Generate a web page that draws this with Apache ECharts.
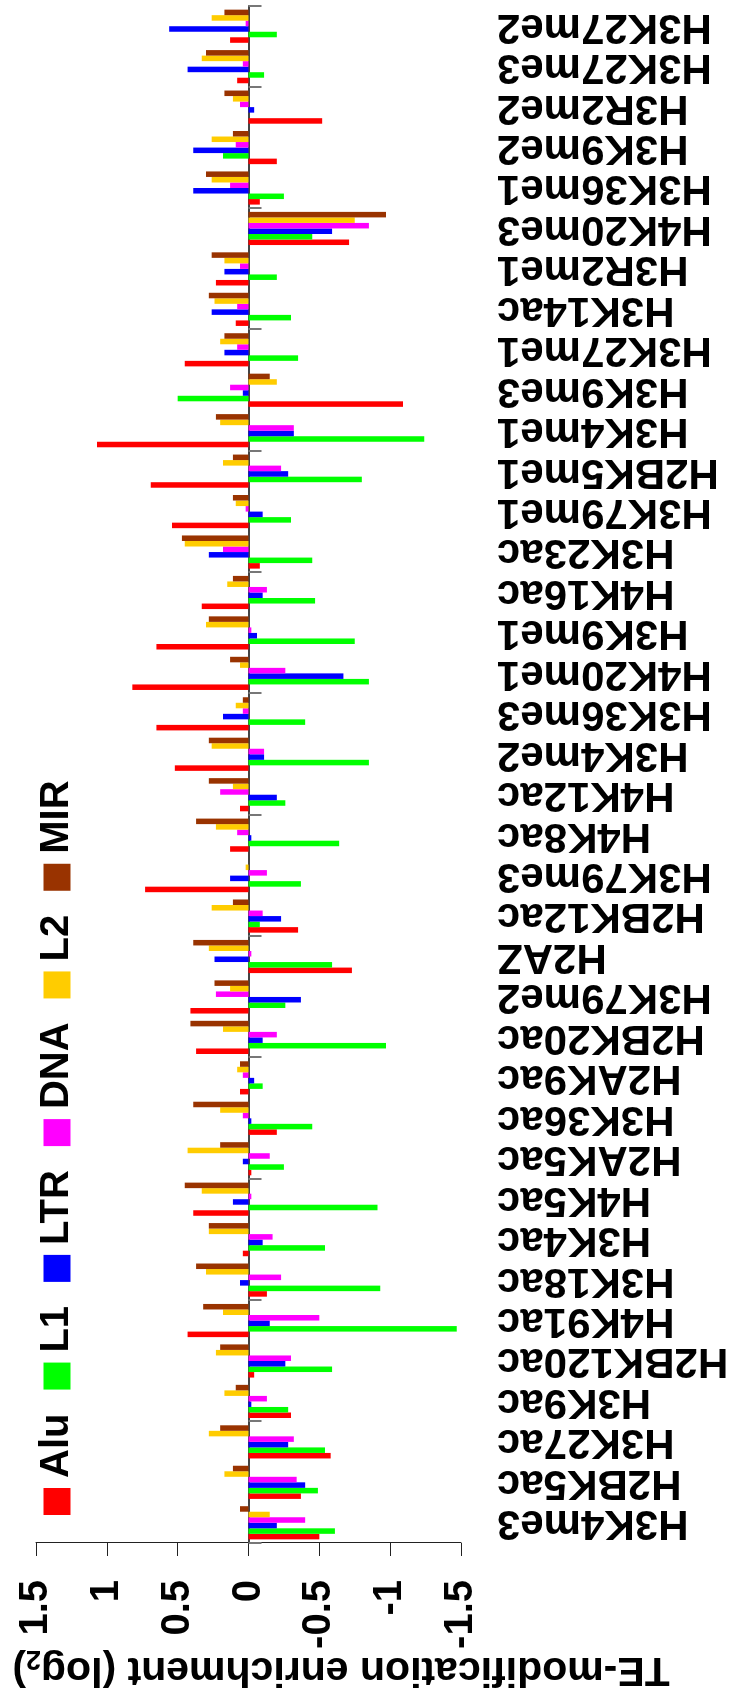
<!DOCTYPE html>
<html>
<head>
<meta charset="utf-8">
<title>TE-modification enrichment</title>
<script src="https://cdn.jsdelivr.net/npm/echarts@6/dist/echarts.min.js"></script>
<style>
  html, body { margin: 0; padding: 0; background: #fff; overflow: hidden; }
  #page { position: relative; width: 734px; height: 1696px; overflow: hidden; background: #fff; }
  /* the chart is laid out landscape and turned a quarter turn anticlockwise */
  #chart {
    position: absolute; left: 0; top: 0;
    width: 1696px; height: 734px;
    transform-origin: 0 0;
    transform: translateY(1696px) rotate(-90deg);
  }
</style>
</head>
<body>
<div id="page"><div id="chart"></div></div>
<script>
// Histone modifications, in axis order
const categories = [
  'H3K4me3', 'H2BK5ac', 'H3K27ac', 'H3K9ac', 'H2BK120ac', 'H4K91ac', 'H3K18ac',
  'H3K4ac', 'H4K5ac', 'H2AK5ac', 'H3K36ac', 'H2AK9ac', 'H2BK20ac', 'H3K79me2',
  'H2AZ', 'H2BK12ac', 'H3K79me3', 'H4K8ac', 'H4K12ac', 'H3K4me2', 'H3K36me3',
  'H4K20me1', 'H3K9me1', 'H4K16ac', 'H3K23ac', 'H3K79me1', 'H2BK5me1', 'H3K4me1',
  'H3K9me3', 'H3K27me1', 'H3K14ac', 'H3R2me1', 'H4K20me3', 'H3K36me1', 'H3K9me2',
  'H3R2me2', 'H3K27me3', 'H3K27me2'
];

// Enrichment (log2) per transposable-element family
const alu = [
  -0.50, -0.37, -0.58, -0.30, -0.04, 0.43, -0.13, 0.04, 0.39, -0.02,
  -0.20, 0.06, 0.37, 0.41, -0.73, -0.35, 0.73, 0.13, 0.06, 0.52,
  0.65, 0.82, 0.65, 0.33, -0.08, 0.54, 0.69, 1.07, -1.09, 0.45,
  0.09, 0.23, -0.71, -0.08, -0.20, -0.52, 0.08, 0.13
];
const l1 = [
  -0.61, -0.49, -0.54, -0.28, -0.59, -1.47, -0.93, -0.54, -0.91, -0.25,
  -0.45, -0.10, -0.97, -0.26, -0.59, -0.08, -0.37, -0.64, -0.26, -0.85,
  -0.40, -0.85, -0.75, -0.47, -0.45, -0.30, -0.80, -1.24, 0.50, -0.35,
  -0.30, -0.20, -0.45, -0.25, 0.18, 0.00, -0.11, -0.20
];
const ltr = [
  -0.20, -0.40, -0.28, -0.02, -0.26, -0.15, 0.06, -0.10, 0.11, 0.04,
  -0.02, -0.04, -0.10, -0.37, 0.24, -0.23, 0.13, -0.02, -0.20, -0.11,
  0.18, -0.67, -0.06, -0.10, 0.28, -0.10, -0.28, -0.32, 0.04, 0.17,
  0.26, 0.17, -0.59, 0.39, 0.39, -0.04, 0.43, 0.56
];
const dna = [
  -0.40, -0.34, -0.32, -0.13, -0.30, -0.50, -0.23, -0.17, -0.02, -0.15,
  0.04, 0.04, -0.20, 0.23, -0.02, -0.10, -0.13, 0.08, 0.20, -0.11,
  0.04, -0.26, -0.02, -0.13, 0.18, 0.02, -0.23, -0.32, 0.13, 0.08,
  0.08, 0.06, -0.85, 0.13, 0.09, 0.06, 0.04, 0.02
];
const l2 = [
  -0.15, 0.17, 0.28, 0.17, 0.23, 0.18, 0.30, 0.28, 0.33, 0.43,
  0.20, 0.08, 0.18, 0.13, 0.28, 0.26, 0.02, 0.23, 0.11, 0.26,
  0.09, 0.06, 0.30, 0.15, 0.45, 0.09, 0.18, 0.20, -0.20, 0.20,
  0.24, 0.17, -0.75, 0.26, 0.26, 0.11, 0.33, 0.26
];
const mir = [
  0.06, 0.11, 0.20, 0.09, 0.20, 0.32, 0.37, 0.28, 0.45, 0.20,
  0.39, 0.06, 0.41, 0.24, 0.39, 0.11, 0.00, 0.37, 0.28, 0.28,
  0.04, 0.13, 0.28, 0.11, 0.47, 0.11, 0.11, 0.23, -0.15, 0.17,
  0.28, 0.26, -0.97, 0.30, 0.11, 0.17, 0.30, 0.17
];

const familyNames = ['Alu', 'L1', 'LTR', 'DNA', 'L2', 'MIR'];
const familyValues = [alu, l1, ltr, dna, l2, mir];
const familyColors = ['#ff0000', '#00ff00', '#0000ff', '#ff00ff', '#ffcc00', '#993300'];

// Value axis range and tick step
const valueMin = -1.5;
const valueMax = 1.5;
const valueStep = 0.5;

const axisTitle = 'TE-modification enrichment (log';
const axisTitleSub = '2';

const FONT = '"Liberation Sans", Arial, Helvetica, sans-serif';

const chart = echarts.init(document.getElementById('chart'), null, { renderer: 'canvas' });

chart.setOption({
  animation: false,
  backgroundColor: '#ffffff',
  grid: { left: 153, right: 6, top: 36, bottom: 273, containLabel: false },
  legend: {
    data: familyNames,
    left: 176,
    top: 32,
    orient: 'horizontal',
    icon: 'rect',
    itemWidth: 27,
    itemHeight: 27,
    itemGap: 24,
    textStyle: {
      fontFamily: FONT, fontSize: 40, fontWeight: 'bold', color: '#000',
      padding: [0, 0, 0, 5]
    }
  },
  xAxis: [
    {
      // zero line with category boundary ticks
      type: 'category',
      data: categories,
      axisLine: { show: true, onZero: true, lineStyle: { color: '#444', width: 2 } },
      axisTick: { show: true, length: 13, alignWithLabel: false, lineStyle: { color: '#777', width: 2 } },
      axisLabel: { show: false },
      splitLine: { show: false }
    },
    {
      // category names along the lower edge of the plot
      type: 'category',
      data: categories,
      position: 'bottom',
      axisLine: { show: false, onZero: false },
      axisTick: { show: false },
      axisLabel: {
        show: true, interval: 0, rotate: 90, margin: 36,
        fontFamily: FONT, fontSize: 42, fontWeight: 'bold', color: '#000'
      },
      splitLine: { show: false }
    }
  ],
  yAxis: {
    type: 'value',
    min: valueMin,
    max: valueMax,
    interval: valueStep,
    axisLine: { show: true, lineStyle: { color: '#222', width: 1 } },
    axisTick: { show: true, length: 13, lineStyle: { color: '#222', width: 1 } },
    splitLine: { show: false },
    axisLabel: {
      margin: 37,
      fontFamily: FONT, fontSize: 40, fontWeight: 'bold', color: '#000'
    }
  },
  graphic: [{
    type: 'text',
    x: 27,
    y: 341,
    rotation: Math.PI / 2,
    style: {
      text: '{m|' + axisTitle + '}{s|' + axisTitleSub + '}{m|)}',
      align: 'center',
      verticalAlign: 'middle',
      fill: '#000',
      rich: {
        m: { fontFamily: FONT, fontSize: 41, fontWeight: 'bold', fill: '#000', lineHeight: 48 },
        s: { fontFamily: FONT, fontSize: 27, fontWeight: 'bold', fill: '#000', lineHeight: 20, verticalAlign: 'bottom' }
      }
    }
  }],
  series: familyNames.map((name, i) => ({
    name: name,
    type: 'bar',
    xAxisIndex: 0,
    data: familyValues[i],
    barGap: '0%',
    barCategoryGap: '18%',
    itemStyle: { color: familyColors[i] }
  }))
});
</script>
</body>
</html>
